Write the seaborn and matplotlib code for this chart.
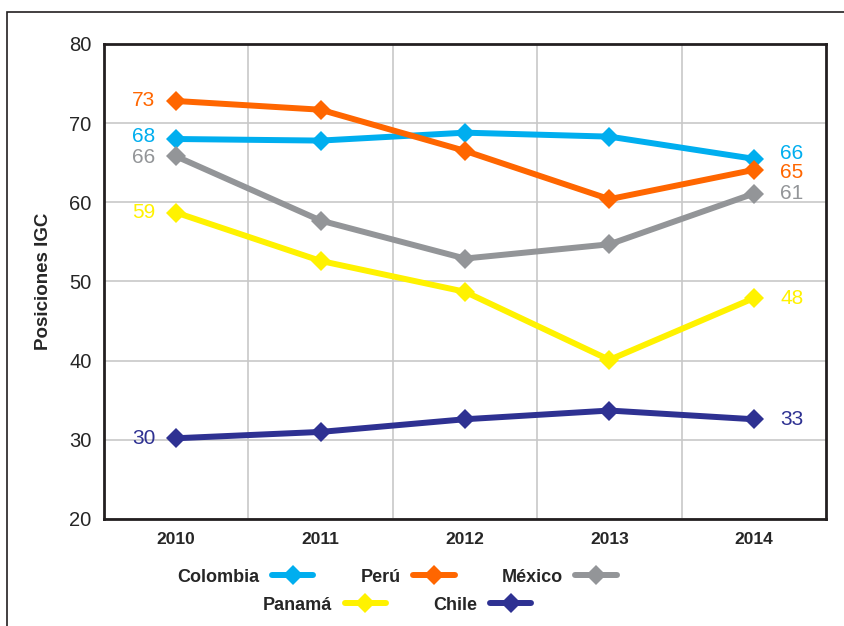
import matplotlib
matplotlib.use("Agg")
import matplotlib.pyplot as plt
import seaborn as sns
import pandas as pd
from matplotlib.patches import Rectangle

years = ["2010", "2011", "2012", "2013", "2014"]
countries = ["Colombia", "Perú", "México", "Panamá", "Chile"]
colombia = [68.0, 67.8, 68.8, 68.3, 65.5]
peru = [72.8, 71.7, 66.5, 60.4, 64.1]
mexico = [65.8, 57.7, 52.9, 54.7, 61.1]
panama = [58.7, 52.6, 48.7, 40.1, 47.9]
chile = [30.2, 31.0, 32.6, 33.7, 32.6]
first_labels = ["68", "73", "66", "59", "30"]
last_labels = ["66", "65", "61", "48", "33"]
colors = ["#00AEEF", "#FF6600", "#939598", "#FFF200", "#2E3192"]

# small vertical nudges (points) for end labels so they don't collide
first_dy = [1.5, 0, -1, 0, 0]
last_dy = [4, -2, 0, 0, 0]

series = [colombia, peru, mexico, panama, chile]
rows = []
for c, vals in zip(countries, series):
    for i, v in enumerate(vals):
        rows.append({"País": c, "x": i, "IGC": v})
df = pd.DataFrame(rows)

sns.set_style("white")
plt.rcParams["font.family"] = ["Liberation Sans", "DejaVu Sans"]

fig = plt.figure(figsize=(8.44, 6.26), dpi=100)
ax = fig.add_axes([104/844, 1-519/626, (826-104)/844, (519-44)/626])

palette = dict(zip(countries, colors))
sns.lineplot(data=df, x="x", y="IGC", hue="País", palette=palette, hue_order=countries,
             marker="D", markersize=10.5, markeredgewidth=0, linewidth=4.3,
             dashes=False, ax=ax, legend=False)
for ln in ax.get_lines():
    ln.set_solid_capstyle("round")
    ln.set_solid_joinstyle("round")

ax.set_xlim(-0.5, 4.5)
ax.set_ylim(20, 80)
ax.set_yticks([20, 30, 40, 50, 60, 70, 80])
ax.set_xticks(range(5))
ax.set_xticklabels(years, fontsize=12.5, fontweight="bold")
ax.set_xticks([0.5, 1.5, 2.5, 3.5], minor=True)
ax.tick_params(axis="y", labelsize=14.5, length=5, width=1.2, color="black", direction="out", pad=4)
ax.tick_params(axis="x", which="both", length=0, pad=9)
ax.grid(axis="y", which="major", color="#C8C8C8", linewidth=1.2)
ax.grid(axis="x", which="minor", color="#C8C8C8", linewidth=1.2)
ax.grid(axis="x", which="major", visible=False)
ax.set_axisbelow(True)
for s in ax.spines.values():
    s.set_visible(True)
    s.set_color("#231F20")
    s.set_linewidth(2)
ax.set_xlabel("")
ax.set_ylabel("Posiciones IGC", fontsize=13.5, fontweight="bold", labelpad=12)

for vals, col, fl, ll, dy0, dy in zip(series, colors, first_labels, last_labels, first_dy, last_dy):
    ax.annotate(fl, (0, vals[0]), xytext=(-15, dy0), textcoords="offset points",
                ha="right", va="center", fontsize=15, color=col)
    ax.annotate(ll, (4, vals[-1]), xytext=(19, dy), textcoords="offset points",
                ha="left", va="center", fontsize=15, color=col)

lines = ax.get_lines()[:5]
leg_kw = dict(frameon=False, markerfirst=False, handlelength=2.3, handletextpad=0.7,
              prop={"weight": "bold", "size": 13}, borderaxespad=0, borderpad=0)
leg1 = fig.legend(lines[:3], countries[:3], ncol=3, columnspacing=2.6,
                  loc="center", bbox_to_anchor=(397/844, 1-577/626), **leg_kw)
leg2 = fig.legend(lines[3:], countries[3:], ncol=2, columnspacing=2.6,
                  loc="center", bbox_to_anchor=(397/844, 1-605/626), **leg_kw)

fig.patches.append(Rectangle((7/844, -0.1), 1.2, 1.1 - 12/626, transform=fig.transFigure,
                             fill=False, edgecolor="#231F20", linewidth=1.2))

fig.savefig("out.png", dpi=100)
